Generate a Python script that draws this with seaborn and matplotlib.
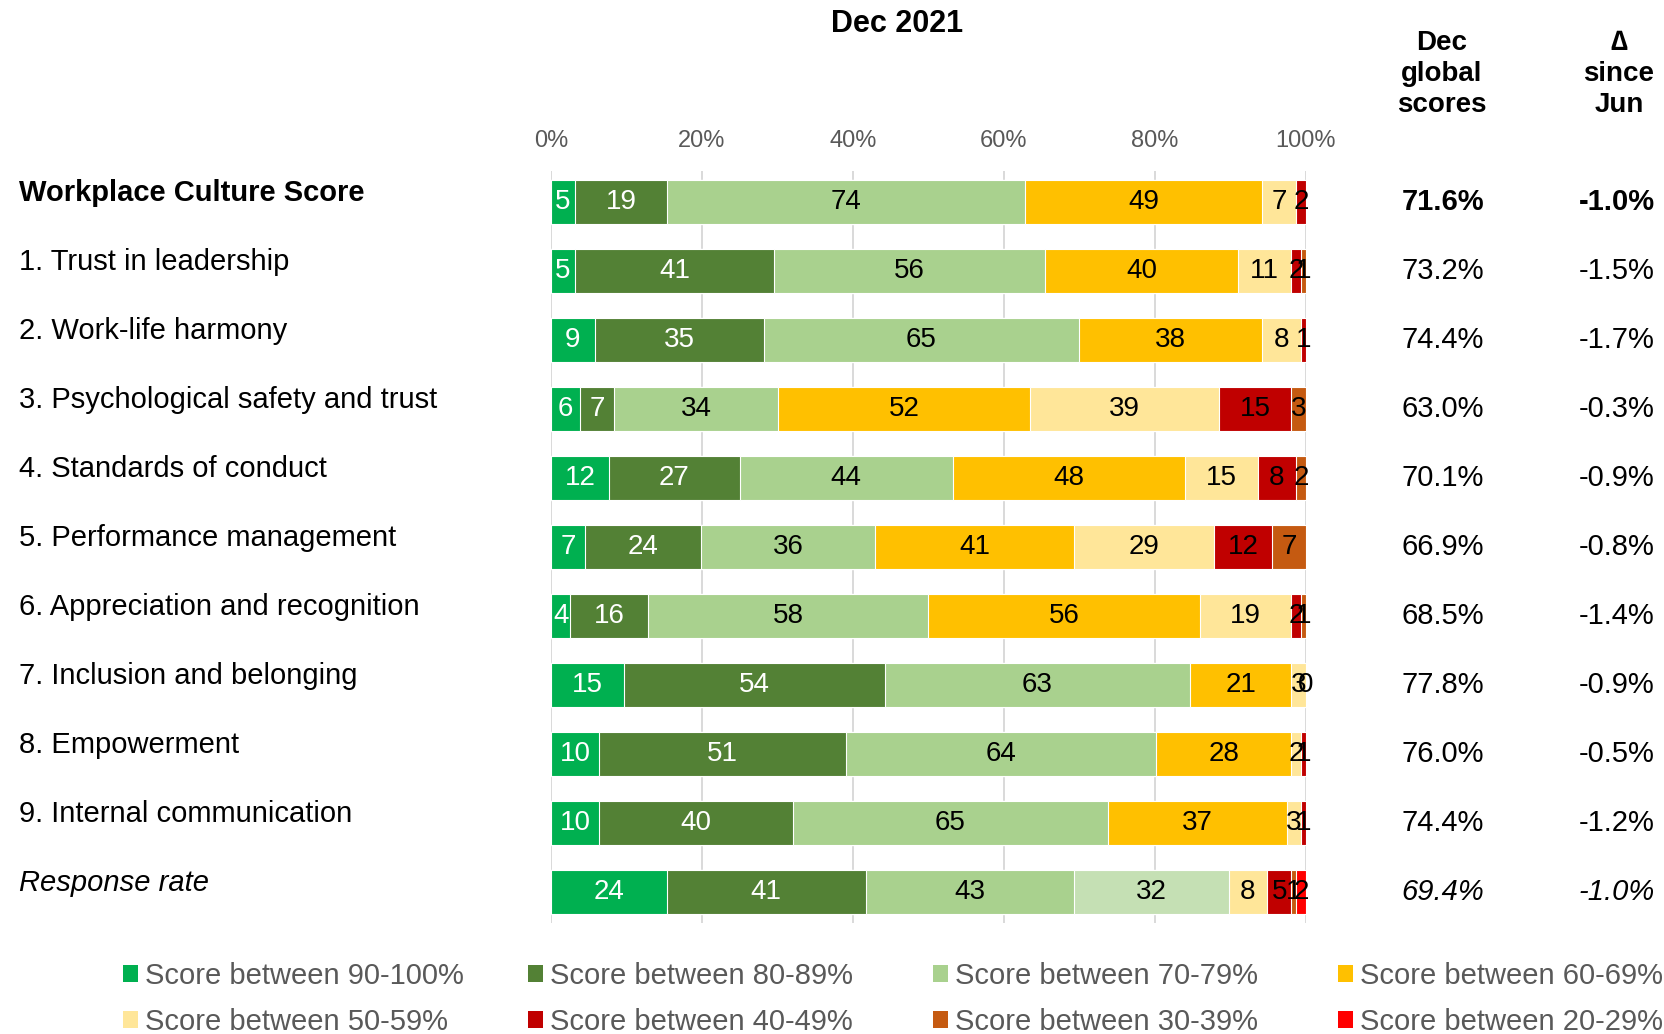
import numpy as np
import pandas as pd
import matplotlib
matplotlib.use("Agg")
import matplotlib.pyplot as plt
import matplotlib.transforms as mtransforms
from matplotlib.patches import Patch
from matplotlib.ticker import MultipleLocator, FuncFormatter
import seaborn as sns

# ---------------------------------------------------------------- data
rows = [
    "Workplace Culture Score",
    "1. Trust in leadership",
    "2. Work-life harmony",
    "3. Psychological safety and trust",
    "4. Standards of conduct",
    "5. Performance management",
    "6. Appreciation and recognition",
    "7. Inclusion and belonging",
    "8. Empowerment",
    "9. Internal communication",
    "Response rate",
]

bands = [
    "Score between 90-100%",
    "Score between 80-89%",
    "Score between 70-79%",
    "Score between 60-69%",
    "Score between 50-59%",
    "Score between 40-49%",
    "Score between 30-39%",
    "Score between 20-29%",
]
band_colors = ["#00B050", "#538135", "#A9D18E", "#FFC000",
               "#FFE699", "#C00000", "#C55A11", "#FF0000"]
response_60_69_color = "#C5E0B4"

# counts per band (None = band not present for that row)
culture_score = [5, 19, 74, 49, 7, 2, None, None]
trust_leadership = [5, 41, 56, 40, 11, 2, 1, None]
work_life = [9, 35, 65, 38, 8, 1, None, None]
psych_safety = [6, 7, 34, 52, 39, 15, 3, None]
standards = [12, 27, 44, 48, 15, 8, 2, None]
performance = [7, 24, 36, 41, 29, 12, 7, None]
appreciation = [4, 16, 58, 56, 19, 2, 1, None]
inclusion = [15, 54, 63, 21, 3, 0, None, None]
empowerment = [10, 51, 64, 28, 2, 1, None, None]
communication = [10, 40, 65, 37, 3, 1, None, None]
response_rate = [24, 41, 43, 32, 8, 5, 1, 2]

global_scores = ["71.6%", "73.2%", "74.4%", "63.0%", "70.1%", "66.9%",
                 "68.5%", "77.8%", "76.0%", "74.4%", "69.4%"]
delta_since_jun = ["-1.0%", "-1.5%", "-1.7%", "-0.3%", "-0.9%", "-0.8%",
                   "-1.4%", "-0.9%", "-0.5%", "-1.2%", "-1.0%"]

counts = pd.DataFrame(
    [culture_score, trust_leadership, work_life, psych_safety, standards,
     performance, appreciation, inclusion, empowerment, communication,
     response_rate],
    index=rows, columns=bands, dtype=float)

totals = counts.sum(axis=1)
pct = counts.fillna(0).div(totals, axis=0) * 100
cum = pct.cumsum(axis=1)

# ---------------------------------------------------------------- style
sns.set_theme(style="white")
plt.rcParams["font.family"] = ["Liberation Sans", "DejaVu Sans"]
plt.rcParams["text.color"] = "black"

W, H = 1665, 1034
fig = plt.figure(figsize=(W / 100, H / 100), dpi=100)
ax = fig.add_axes([551 / W, 1 - 923 / H, (1306 - 551) / W, (923 - 171) / H])

# stacked bars: draw cumulative totals from the last band to the first
for j in reversed(range(len(bands))):
    band = bands[j]
    d = pd.DataFrame({"row": rows, "cum": cum[band].values})
    pal = {r: band_colors[j] for r in rows}
    if band == "Score between 60-69%":
        pal["Response rate"] = response_60_69_color
    sns.barplot(data=d, x="cum", y="row", hue="row", palette=pal,
                order=rows, hue_order=rows, legend=False, width=0.63,
                saturation=1, edgecolor="white", linewidth=0.8,
                ax=ax, zorder=2)

# segment value labels
for i, r in enumerate(rows):
    for j, band in enumerate(bands):
        v = counts.loc[r, band]
        if pd.isna(v):
            continue
        xc = cum.loc[r, band] - pct.loc[r, band] / 2
        ax.text(xc, i, f"{int(v)}", ha="center", va="center", fontsize=20,
                color="white" if j < 2 else "black", zorder=3)

ax.set_xlim(0, 100)
ax.set_ylim(len(rows) - 1 + 0.45, -0.45)
ax.set_xlabel("")
ax.set_ylabel("")
ax.set_yticks([])
ax.xaxis.tick_top()
ax.set_xticks(range(0, 101, 20))
ax.xaxis.set_major_formatter(FuncFormatter(lambda v, p: f"{v:.0f}%"))
ax.tick_params(axis="x", length=0, pad=14, labelsize=17, labelcolor="#595959")
ax.set_axisbelow(True)
ax.xaxis.grid(True, color="#D9D9D9", linewidth=1.4)
ax.yaxis.grid(False)
for s in ax.spines.values():
    s.set_visible(False)

# row labels on the left and score columns on the right
lab_tr = mtransforms.offset_copy(
    mtransforms.blended_transform_factory(fig.transFigure, ax.transData),
    fig=fig, x=0, y=9, units="dots")
val_tr = mtransforms.blended_transform_factory(fig.transFigure, ax.transData)
for i, r in enumerate(rows):
    weight = "bold" if i == 0 else "normal"
    style = "italic" if r == "Response rate" else "normal"
    ax.text(19 / W, i, r, transform=lab_tr, ha="left", va="center",
            fontsize=21, fontweight=weight, fontstyle=style, color="black")
    ax.text(1443 / W, i, global_scores[i], transform=val_tr, ha="center",
            va="center", fontsize=21, fontweight=weight, fontstyle=style,
            color="black")
    ax.text(1617 / W, i, delta_since_jun[i], transform=val_tr, ha="center",
            va="center", fontsize=21, fontweight=weight, fontstyle=style,
            color="black")

fig.text(897 / W, 1 - 24 / H, "Dec 2021", ha="center", va="center",
         fontsize=22, fontweight="bold", color="black")
fig.text(1442 / W, 1 - 74 / H, "Dec\nglobal\nscores", ha="center",
         va="center", fontsize=20, fontweight="bold", linespacing=1.27,
         color="black")
fig.text(1619 / W, 1 - 74 / H, "\u2206\nsince\nJun", ha="center",
         va="center", fontsize=20, fontweight="bold", linespacing=1.27,
         color="black")

# faint tick row beneath the chart
ax2 = fig.add_axes([481 / W, 1 - 948 / H, (1612 - 481) / W, 0.001])
ax2.set_xlim(0, 9)
ax2.xaxis.set_major_locator(MultipleLocator(1))
ax2.tick_params(axis="x", direction="in", length=5, width=1.2,
                color="#D9D9D9", labelbottom=False)
ax2.set_yticks([])
ax2.patch.set_visible(False)
for s in ax2.spines.values():
    s.set_visible(False)

# legend: four columns, two rows
handles = [Patch(facecolor=c, edgecolor="none") for c in band_colors]
col_x = [123, 528, 933, 1338]
for c in range(4):
    fig.legend([handles[c], handles[c + 4]], [bands[c], bands[c + 4]],
               loc="center left", bbox_to_anchor=(col_x[c] / W, 1 - 999 / H),
               frameon=False, fontsize=21, handlelength=0.52,
               handleheight=0.52, handletextpad=0.22, borderpad=0,
               borderaxespad=0, labelspacing=0.63, labelcolor="#595959")

fig.savefig("out.png", dpi=100)
